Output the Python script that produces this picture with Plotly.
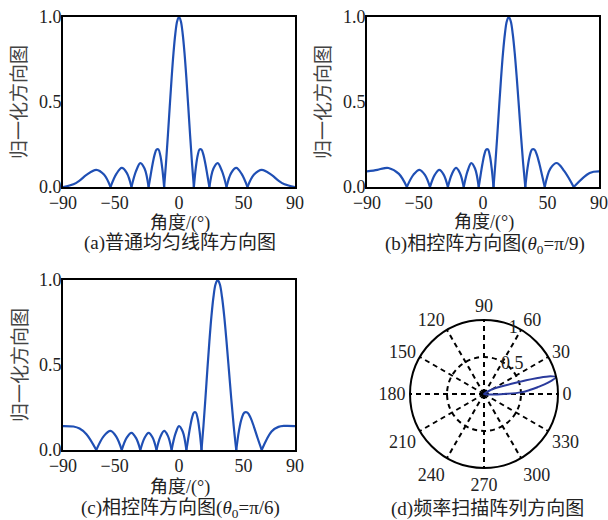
import plotly.graph_objects as go

W, H = 608, 520

# ---------------- data ----------------
# (a) uniform linear array
theta_a = [-90, -81.89, -77.16, -71.81, -64.16, -58.21, -53.13, -48.59, -44.43, -40.54,
           -36.87, -33.37, -30, -26.74, -23.58, -22.02, -20.49, -18.97, -17.46, -15.96,
           -14.48, -13.0, -11.54, -10.08, -8.63, -7.18, -5.74, -4.30, -2.87, -1.43,
           0, 1.43, 2.87, 4.30, 5.74, 7.18, 8.63, 10.08, 11.54, 13.0,
           14.48, 15.96, 17.46, 18.97, 20.49, 22.02, 23.58, 26.74, 30, 33.37,
           36.87, 40.54, 44.43, 48.59, 53.13, 58.21, 64.16, 71.81, 77.16, 81.89, 90]
gain_a = [0, 0.016, 0.038, 0.071, 0.101, 0.073, 0, 0.077, 0.112, 0.083,
          0, 0.093, 0.141, 0.109, 0, 0.069, 0.135, 0.189, 0.220, 0.221,
          0.185, 0.111, 0, 0.141, 0.303, 0.474, 0.639, 0.786, 0.90, 0.975,
          1, 0.975, 0.90, 0.786, 0.639, 0.474, 0.303, 0.141, 0, 0.111,
          0.185, 0.221, 0.220, 0.189, 0.135, 0.069, 0, 0.109, 0.141, 0.093,
          0, 0.083, 0.112, 0.077, 0, 0.073, 0.101, 0.071, 0.038, 0.016, 0]

# (b) phased array, theta0 = pi/9
theta_b = [-90, -81.89, -77.16, -73.34, -65.23, -59.1, -53.9, -49.29, -45.07, -41.14,
           -37.44, -33.92, -30.53, -27.25, -24.08, -20.98, -17.94, -14.95, -12.0, -9.09,
           -6.2, -3.32, -1.89, -0.46, 0.97, 2.41, 3.84, 5.28, 6.72, 8.16,
           9.61, 11.07, 12.53, 14.0, 15.49, 16.98, 18.48, 20.0, 21.53, 23.08,
           24.64, 26.23, 27.84, 29.47, 31.13, 32.82, 34.54, 36.30, 38.09, 39.94,
           41.83, 43.79, 45.81, 47.90, 52.37, 57.34, 63.11, 70.39, 82.73, 90]
gain_b = [0.092, 0.101, 0.110, 0.112, 0.077, 0, 0.073, 0.101, 0.071, 0,
          0.071, 0.101, 0.073, 0, 0.077, 0.112, 0.083, 0, 0.093, 0.141,
          0.109, 0, 0.069, 0.135, 0.189, 0.220, 0.221, 0.185, 0.111, 0,
          0.141, 0.303, 0.474, 0.639, 0.786, 0.90, 0.975, 1, 0.975, 0.90,
          0.786, 0.639, 0.474, 0.303, 0.141, 0, 0.111, 0.185, 0.221, 0.220,
          0.189, 0.135, 0.069, 0, 0.109, 0.141, 0.093, 0, 0.083, 0.092]

# (c) phased array, theta0 = pi/6
theta_c = [-90, -81.89, -77.16, -71.81, -64.16, -58.21, -53.13, -48.59, -44.43, -40.54,
           -36.87, -33.37, -30, -26.74, -23.58, -20.49, -17.46, -14.48, -11.54, -8.63,
           -5.74, -2.87, 0, 2.87, 5.74, 7.18, 8.63, 10.08, 11.54, 13.0,
           14.48, 15.96, 17.46, 18.97, 20.49, 22.02, 23.58, 25.15, 26.74, 28.36,
           30, 31.67, 33.37, 35.10, 36.87, 38.68, 40.54, 42.45, 44.43, 46.47,
           48.59, 50.81, 53.13, 55.59, 58.21, 61.04, 64.16, 71.81, 77.16, 81.89, 90]
gain_c = [0.141, 0.138, 0.126, 0.093, 0, 0.083, 0.112, 0.077, 0, 0.073,
          0.101, 0.071, 0, 0.071, 0.101, 0.073, 0, 0.077, 0.112, 0.083,
          0, 0.093, 0.141, 0.109, 0, 0.069, 0.135, 0.189, 0.220, 0.221,
          0.185, 0.111, 0, 0.141, 0.303, 0.474, 0.639, 0.786, 0.90, 0.975,
          1, 0.975, 0.90, 0.786, 0.639, 0.474, 0.303, 0.141, 0, 0.111,
          0.185, 0.221, 0.220, 0.189, 0.135, 0.069, 0, 0.109, 0.136, 0.142, 0.141]

# (d) frequency-scanning array (polar, degrees / normalised radius)
theta_d = [-8, -4, 0, 2.5, 5, 7.2, 10, 13.3, 15, 16.7, 18, 19, 22.6, 26, 31, 40]
r_d = [0, 0.1, 0.27, 0.5, 0.62, 0.73, 0.88, 1.0, 0.93, 0.74, 0.6, 0.5, 0.29, 0.2, 0.1, 0]

x_ticks = [-90, -50, 0, 50, 90]
y_ticks = [0, 0.5, 1.0]
polar_angles = list(range(0, 360, 30))
polar_radial_ticks = [0.5, 1]

assert len(theta_a) == len(gain_a)
assert len(theta_b) == len(gain_b)
assert len(theta_c) == len(gain_c)
assert len(theta_d) == len(r_d)

# ---------------- helpers ----------------
def lobes(x, y):
    """split the curve at its interior nulls so the spline keeps sharp cusps"""
    xs, ys = [], []
    n = len(x)
    for i, (a, b) in enumerate(zip(x, y)):
        xs.append(a)
        ys.append(b)
        if b == 0 and 0 < i < n - 1:
            xs += [None, a]
            ys += [None, b]
    return xs, ys


def px(p):
    return p / W


def py(p):
    return 1 - p / H


LINE = '#1f4fb4'
TXT = '#222222'
SERIF = 'Liberation Serif'
MIX = 'Liberation Serif, Noto Sans CJK SC'
DASH = '5px,4px'

fig = go.Figure()
for (xv, yv), xa, ya in [((theta_a, gain_a), 'x', 'y'),
                         ((theta_b, gain_b), 'x2', 'y2'),
                         ((theta_c, gain_c), 'x3', 'y3')]:
    xs, ys = lobes(xv, yv)
    fig.add_trace(go.Scatter(x=xs, y=ys, mode='lines', xaxis=xa, yaxis=ya,
                             connectgaps=False, showlegend=False,
                             line=dict(color=LINE, width=2.2, shape='spline', smoothing=1)))

fig.add_trace(go.Scatterpolar(r=r_d, theta=theta_d, mode='lines', subplot='polar',
                              showlegend=False,
                              line=dict(color='#2a3a9c', width=2, shape='spline')))

xax = dict(range=[-90, 90], tickmode='array', tickvals=x_ticks, showline=True,
           linecolor='black', linewidth=2, mirror=True, showgrid=False, zeroline=False,
           ticks='', ticklabelstandoff=-2, automargin=False,
           tickfont=dict(family=SERIF, size=18, color=TXT))
yax = dict(range=[0, 1], tickmode='array', tickvals=y_ticks, tickformat='.1f', showline=True,
           linecolor='black', linewidth=2, mirror=True, showgrid=False, zeroline=False,
           ticks='', ticklabelstandoff=-4, automargin=False,
           tickfont=dict(family=SERIF, size=18, color=TXT))

# panel rectangles in pixels: (left, right, top, bottom)
pa = (63, 295, 17, 187)
pb = (367, 599, 17, 187)
pc = (63, 295, 280, 450)

layout = dict(
    width=W, height=H, margin=dict(l=0, r=0, t=0, b=0, autoexpand=False),
    paper_bgcolor='white', plot_bgcolor='white', showlegend=False,
    xaxis=dict(xax, domain=[px(pa[0]), px(pa[1])], anchor='y'),
    yaxis=dict(yax, domain=[py(pa[3]), py(pa[2])], anchor='x'),
    xaxis2=dict(xax, domain=[px(pb[0]), px(pb[1])], anchor='y2'),
    yaxis2=dict(yax, domain=[py(pb[3]), py(pb[2])], anchor='x2'),
    xaxis3=dict(xax, domain=[px(pc[0]), px(pc[1])], anchor='y3'),
    yaxis3=dict(yax, domain=[py(pc[3]), py(pc[2])], anchor='x3'),
    polar=dict(
        domain=dict(x=[px(410), px(558)], y=[py(468), py(320)]),
        bgcolor='white',
        angularaxis=dict(rotation=0, direction='counterclockwise', thetaunit='degrees',
                         tickmode='array', tickvals=polar_angles,
                         ticktext=[str(a) for a in polar_angles],
                         showline=True, linecolor='black', linewidth=2,
                         showgrid=True, gridcolor='black', griddash=DASH, gridwidth=1.5,
                         ticks='', tickfont=dict(family=SERIF, size=18, color=TXT)),
        radialaxis=dict(range=[0, 1.001], tickmode='array', tickvals=polar_radial_ticks,
                        ticktext=['0.5', '1'], showline=False, angle=78, tickangle=78,
                        showgrid=True, gridcolor='black', griddash=DASH, gridwidth=1.5,
                        ticks='', tickfont=dict(family=SERIF, size=18, color=TXT)),
    ),
)
fig.update_layout(**layout)

ann = []
def add_text(text, x, y, size=18, angle=0, family=MIX, color=TXT):
    ann.append(dict(text=text, x=px(x), y=py(y), xref='paper', yref='paper',
                    showarrow=False, textangle=angle, xanchor='center', yanchor='middle',
                    font=dict(family=family, size=size, color=color)))

ytitle = '归一化方向图'
xtitle = '角度/(°)'
add_text(ytitle, 20, 102, size=19, angle=-90, color='#444444')
add_text(ytitle, 324, 102, size=19, angle=-90, color='#444444')
add_text(ytitle, 20, 365, size=19, angle=-90, color='#444444')
add_text(xtitle, 180, 223)
add_text(xtitle, 484, 222)
add_text(xtitle, 180, 487)
add_text('(a)普通均匀线阵方向图', 180, 243, size=19)
add_text('(b)相控阵方向图(<i>θ</i><sub>0</sub>=π/9)', 485, 245, size=19)
add_text('(c)相控阵方向图(<i>θ</i><sub>0</sub>=π/6)', 180, 509, size=19)
add_text('(d)频率扫描阵列方向图', 487, 509, size=19)
fig.update_layout(annotations=ann)

fig.write_html('out.html')
